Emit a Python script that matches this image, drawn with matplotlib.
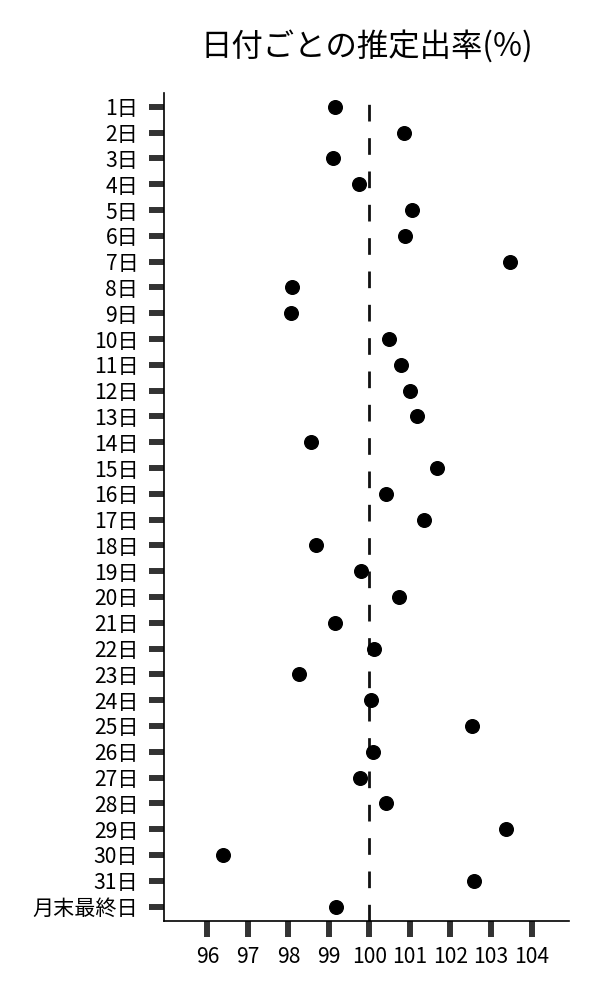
import matplotlib
matplotlib.use("Agg")
import matplotlib.pyplot as plt

plt.rcParams['font.family'] = ['Noto Sans CJK JP', 'DejaVu Sans']

# カテゴリ(日付)と推定出率
dias = [f"{d}日" for d in range(1, 32)] + ["月末最終日"]
tasas = [99.14, 100.85, 99.09, 99.75, 101.04, 100.89, 103.48, 98.09,
         98.07, 100.48, 100.79, 100.99, 101.17, 98.57, 101.66, 100.42,
         101.34, 98.68, 99.80, 100.74, 99.14, 100.11, 98.27, 100.03,
         102.53, 100.09, 99.77, 100.40, 103.37, 96.39, 102.59, 99.17]
xticks = [96, 97, 98, 99, 100, 101, 102, 103, 104]
referencia = 100

fig = plt.figure(figsize=(6, 10), dpi=100)
ax = fig.add_axes([0.2733, 0.0793, 0.948 - 0.2733, 0.9073 - 0.0793])

posiciones = list(range(len(dias)))
ax.plot(tasas, posiciones, 'o', color='black', markersize=9.8, zorder=3)
# línea de referencia en 100
ax.axvline(referencia, color='#111111', lw=2, dashes=(6, 6), zorder=2)

ax.set_yticks(posiciones)
ax.set_yticklabels(dias)
ax.set_xticks(xticks)
ax.set_xticklabels([str(x) for x in xticks])
ax.set_ylim(len(dias) - 0.45, -0.55)
ax.set_xlim(94.93, 104.92)

ax.spines['top'].set_visible(False)
ax.spines['right'].set_visible(False)
ax.spines['left'].set_linewidth(1.2)
ax.spines['bottom'].set_linewidth(1.2)
ax.tick_params(axis='y', length=11, width=4.3, color='#333333', pad=7.5, labelsize=15.2)
ax.tick_params(axis='x', length=11.5, width=4.3, color='#333333', pad=7, labelsize=15.2)

ax.set_title("日付ごとの推定出率(%)", fontsize=22.6, pad=27)

fig.savefig("out.png", dpi=100)
plt.close(fig)
